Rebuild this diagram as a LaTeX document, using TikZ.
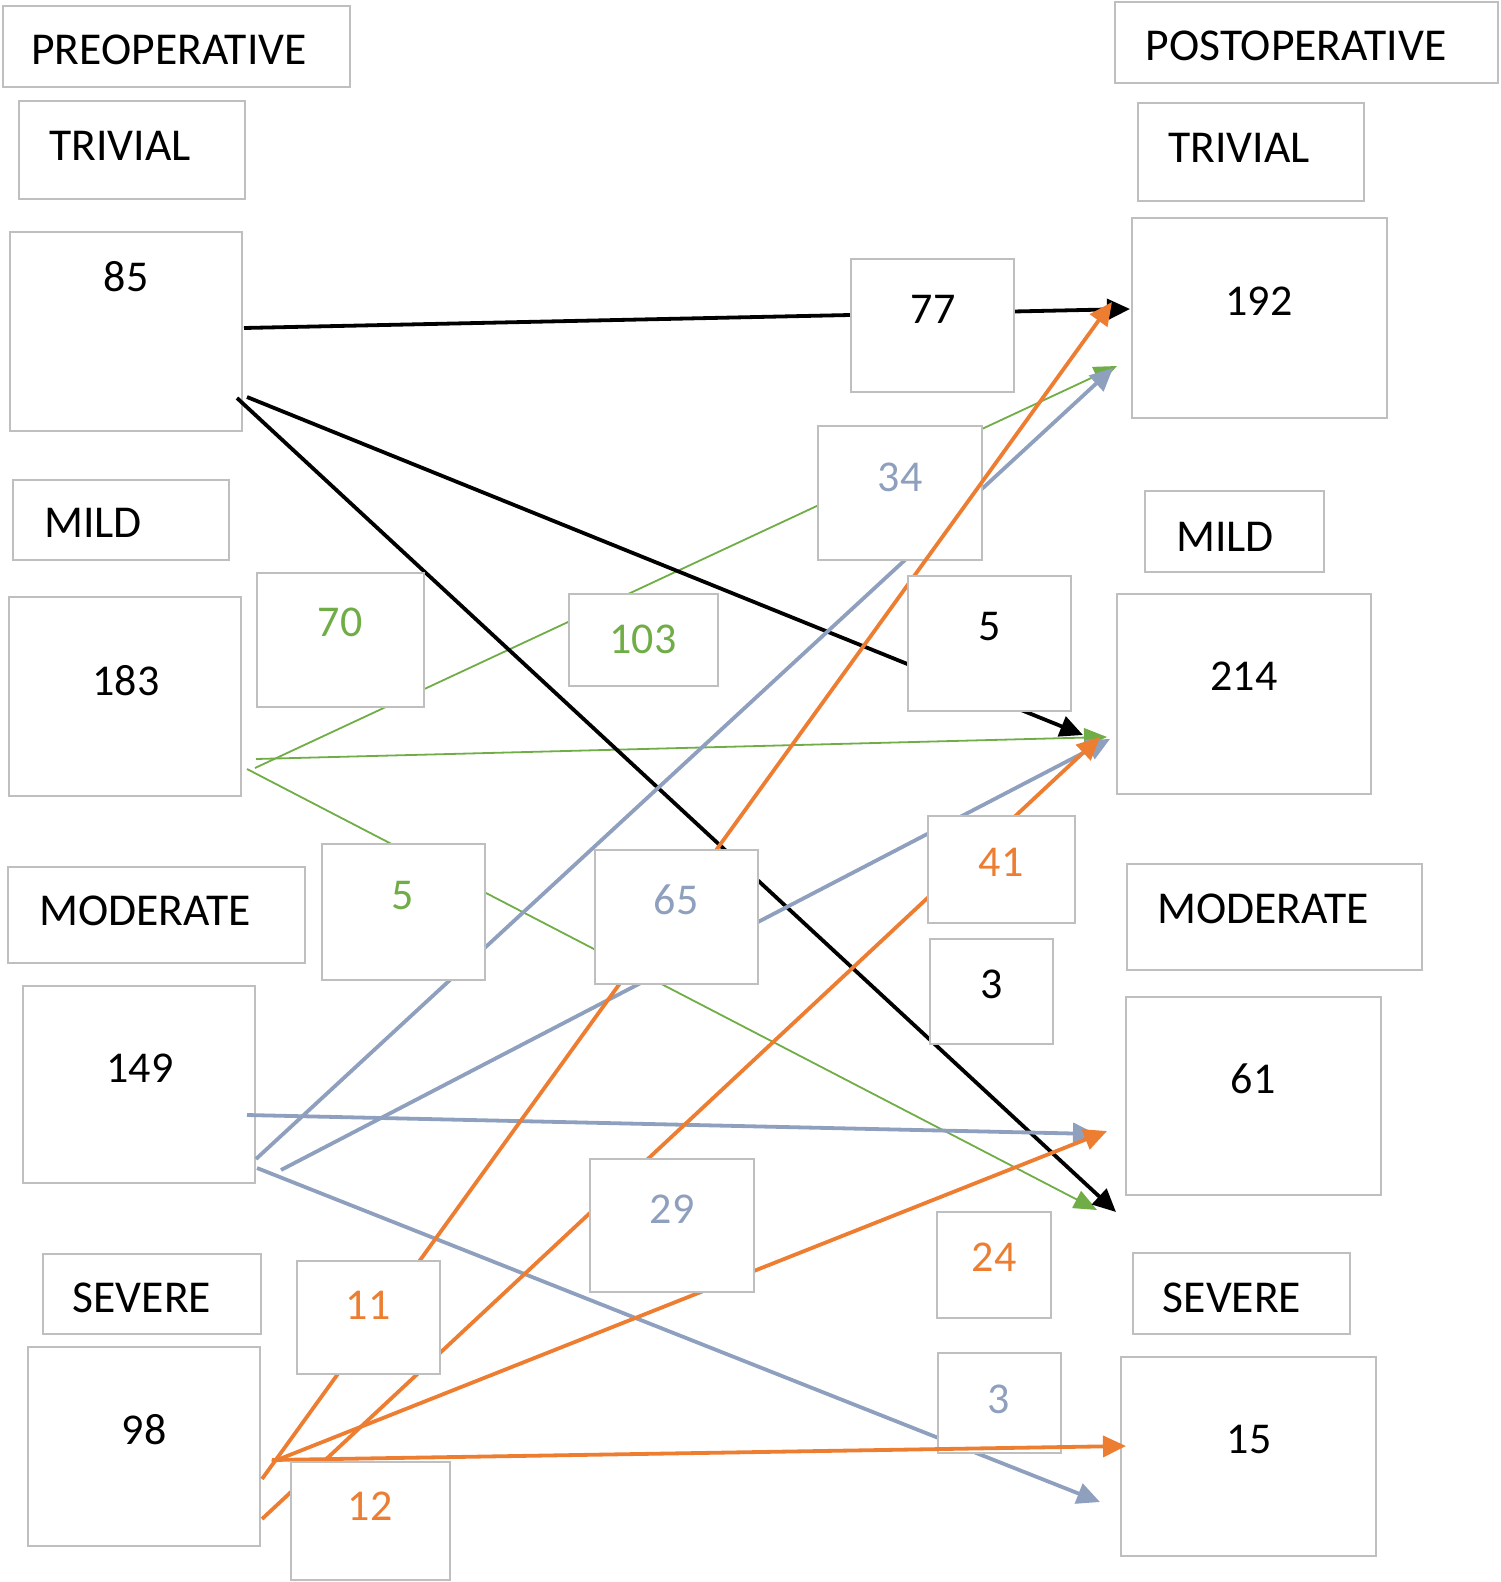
\documentclass[tikz,border=0pt]{standalone}
\usepackage{fontspec}
\setmainfont{Carlito}
\usetikzlibrary{arrows.meta}
\definecolor{cOr}{HTML}{ED7D31}
\definecolor{cGr}{HTML}{70AD47}
\definecolor{cGy}{HTML}{8EA0BD}
\definecolor{cBd}{HTML}{BFBFBF}
\begin{document}
\begin{tikzpicture}[x=1pt,y=-1pt,
  box/.style={draw=cBd, line width=2.5pt, fill=white, inner sep=0pt, outer sep=0pt},
  txt/.style={inner sep=0pt, font=\fontsize{44}{50}\selectfont},
  wrd/.style={inner sep=0pt, font=\fontsize{45.6}{52}\selectfont},
  blkline/.style={line width=3.8pt, black, -{Triangle[length=23pt,width=21pt]}},
  grnline/.style={line width=1.8pt, cGr, -{Triangle[length=23pt,width=19pt]}},
  gryline/.style={line width=3.8pt, cGy, -{Triangle[length=23pt,width=21pt]}},
  orgline/.style={line width=3.8pt, cOr, -{Triangle[length=23pt,width=21pt]}}]
\useasboundingbox (0,0) rectangle (1500,1582);

% ---------- column boxes ----------
\node[box, minimum width=347pt, minimum height=81pt] (bPre) at (176.5,46.5) {};
\node[wrd] (tPre) at (169,50) {PREOPERATIVE};
\node[box, minimum width=226pt, minimum height=98pt] (bTrivL) at (132,150) {};
\node[wrd] (tTrivL) at (120,146) {TRIVIAL};
\node[box, minimum width=232pt, minimum height=199pt] (b85) at (126,331.5) {};
\node[txt] (t85) at (126,277) {85};
\node[box, minimum width=216pt, minimum height=80pt] (bMildL) at (121,520) {};
\node[wrd] (tMildL) at (93,523) {MILD};
\node[box, minimum width=232pt, minimum height=199pt] (b183) at (125,696.5) {};
\node[txt] (t183) at (126,681) {183};
\node[box, minimum width=297pt, minimum height=96pt] (bModL) at (156.5,915) {};
\node[wrd] (tModL) at (145,911) {MODERATE};
\node[box, minimum width=232pt, minimum height=197pt] (b149) at (139,1084.5) {};
\node[txt] (t149) at (140,1068) {149};
\node[box, minimum width=218pt, minimum height=80pt] (bSevL) at (152,1294) {};
\node[wrd] (tSevL) at (142,1298) {SEVERE};
\node[box, minimum width=232pt, minimum height=199pt] (b98) at (144,1446.5) {};
\node[txt] (t98) at (144,1430) {98};

\node[box, minimum width=383pt, minimum height=81pt] (bPost) at (1306.5,42.5) {};
\node[wrd] (tPost) at (1296,46) {POSTOPERATIVE};
\node[box, minimum width=226pt, minimum height=98pt] (bTrivR) at (1251,152) {};
\node[wrd] (tTrivR) at (1239,148) {TRIVIAL};
\node[box, minimum width=255pt, minimum height=200pt] (b192) at (1259.5,318) {};
\node[txt] (t192) at (1259,301) {192};
\node[box, minimum width=179pt, minimum height=81pt] (bMildR) at (1234.5,531.5) {};
\node[wrd] (tMildR) at (1225,537) {MILD};
\node[box, minimum width=254pt, minimum height=200pt] (b214) at (1244,694) {};
\node[txt] (t214) at (1244,676) {214};
\node[box, minimum width=295pt, minimum height=106pt] (bModR) at (1274.5,917) {};
\node[wrd] (tModR) at (1263,909) {MODERATE};
\node[box, minimum width=255pt, minimum height=198pt] (b61) at (1253.5,1096) {};
\node[txt] (t61) at (1253,1079) {61};
\node[box, minimum width=217pt, minimum height=81pt] (bSevR) at (1241.5,1293.5) {};
\node[wrd] (tSevR) at (1232,1298) {SEVERE};
\node[box, minimum width=255pt, minimum height=199pt] (b15) at (1248.5,1456.5) {};
\node[txt] (t15) at (1249,1439) {15};

% ---------- connector end points ----------
\coordinate (sB1) at (244,328);  \coordinate (eB1) at (1130,309);
\coordinate (sB2) at (247,397);  \coordinate (eB2) at (1083,735);
\coordinate (sB3) at (237,398);  \coordinate (eB3) at (1116,1212);
\coordinate (sG1) at (255,768);  \coordinate (eG1) at (1117,366);
\coordinate (sG2) at (256,759);  \coordinate (eG2) at (1107,737);
\coordinate (sG3) at (247,769);  \coordinate (eG3) at (1097,1210);
\coordinate (sY1) at (256,1159); \coordinate (eY1) at (1113,368);
\coordinate (sY2) at (281,1170); \coordinate (eY2) at (1110,739);
\coordinate (sY3) at (247,1115); \coordinate (eY3) at (1096,1134);
\coordinate (sY4) at (257,1168); \coordinate (eY4) at (1100,1502);
\coordinate (sO1) at (262,1479); \coordinate (eO1) at (1112,302);
\coordinate (sO2) at (262,1519); \coordinate (eO2) at (1100,737);
\coordinate (sO3) at (272,1462); \coordinate (eO3) at (1107,1131);
\coordinate (sO4) at (272,1460); \coordinate (eO4) at (1126,1446);

% ---------- green, black, grey connectors ----------
\draw[grnline] (sG1) -- (eG1);
\draw[grnline] (sG2) -- (eG2);
\draw[grnline] (sG3) -- (eG3);
\draw[blkline] (sB1) -- (eB1);
\draw[blkline] (sB2) -- (eB2);
\draw[blkline] (sB3) -- (eB3);
\draw[gryline] (sY1) -- (eY1);
\draw[gryline] (sY2) -- (eY2);
\draw[gryline] (sY3) -- (eY3);
\draw[gryline] (sY4) -- (eY4);

% ---------- labels lying under the orange connectors ----------
\node[box, minimum width=164pt, minimum height=134pt] (b34) at (900,493) {};
\node[txt, text=cGy] (t34) at (900,477) {34};
\node[box, minimum width=123pt, minimum height=100pt] (b3g) at (999.5,1403) {};
\node[txt, text=cGy] (t3g) at (999,1399) {3};

% ---------- orange connectors ----------
\draw[orgline] (sO1) -- (eO1);
\draw[orgline] (sO2) -- (eO2);
\draw[orgline] (sO3) -- (eO3);
\draw[orgline] (sO4) -- (eO4);

% ---------- other labels ----------
\node[box, minimum width=163pt, minimum height=133pt] (b77) at (932.5,325.5) {};
\node[txt] (t77) at (933,309) {77};
\node[box, minimum width=167pt, minimum height=134pt] (b70) at (340.5,640) {};
\node[txt, text=cGr] (t70) at (340,622) {70};
\node[box, minimum width=149pt, minimum height=92pt] (b103) at (643.5,640) {};
\node[txt, text=cGr] (t103) at (643,639) {103};
\node[box, minimum width=163pt, minimum height=135pt] (b5k) at (989.5,643.5) {};
\node[txt] (t5k) at (990,627) {5};
\node[box, minimum width=163pt, minimum height=136pt] (b5g) at (403.5,912) {};
\node[txt, text=cGr] (t5g) at (403,896) {5};
\node[box, minimum width=163pt, minimum height=134pt] (b65) at (676.5,917) {};
\node[txt, text=cGy] (t65) at (676,900) {65};
\node[box, minimum width=147pt, minimum height=107pt] (b41) at (1001.5,869.5) {};
\node[txt, text=cOr] (t41) at (1001,862) {41};
\node[box, minimum width=123pt, minimum height=105pt] (b3k) at (991.5,991.5) {};
\node[txt] (t3k) at (992,984) {3};
\node[box, minimum width=164pt, minimum height=133pt] (b29) at (672,1225.5) {};
\node[txt, text=cGy] (t29) at (672,1209) {29};
\node[box, minimum width=114pt, minimum height=106pt] (b24) at (994,1265) {};
\node[txt, text=cOr] (t24) at (994,1257) {24};
\node[box, minimum width=143pt, minimum height=113pt] (b11) at (368.5,1317.5) {};
\node[txt, text=cOr] (t11) at (368,1305) {11};
\node[box, minimum width=159pt, minimum height=118pt] (b12) at (370.5,1521) {};
\node[txt, text=cOr] (t12) at (370,1506) {12};
\end{tikzpicture}
\end{document}
